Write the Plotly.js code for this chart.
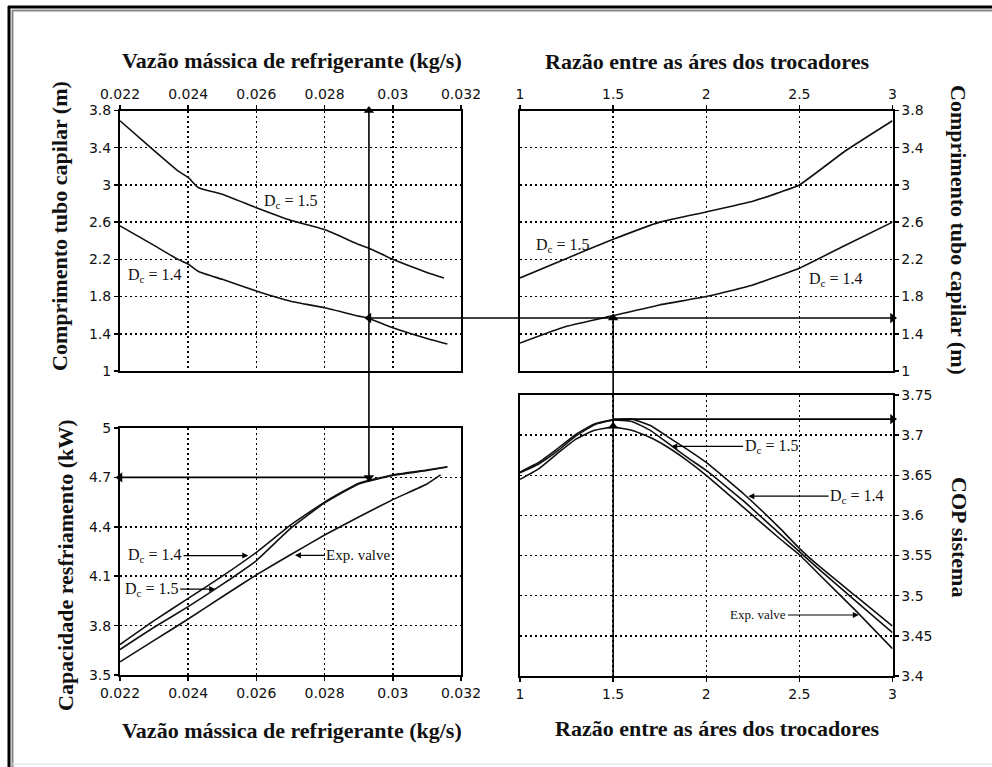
<!DOCTYPE html>
<html><head><meta charset="utf-8">
<script src="https://cdn.plot.ly/plotly-3.0.1.min.js"></script>
<style>html,body{margin:0;padding:0;background:#fff}</style>
</head><body><div id="chart" style="width:992px;height:767px"></div>
<script>
// ---------- DATA ----------
// Top-left: capillary tube length vs refrigerant mass flow
const flowTopDc15 = [0.022, 0.0229, 0.0237, 0.024, 0.0243, 0.025, 0.026, 0.027, 0.028, 0.029, 0.0293, 0.030, 0.031, 0.0315];
const lengthFlowDc15 = [3.69, 3.40, 3.15, 3.08, 2.97, 2.90, 2.755, 2.62, 2.52, 2.36, 2.32, 2.20, 2.06, 2.00];
const flowTopDc14 = [0.022, 0.023, 0.0237, 0.024, 0.0243, 0.025, 0.026, 0.027, 0.028, 0.029, 0.0293, 0.030, 0.031, 0.0316];
const lengthFlowDc14 = [2.56, 2.35, 2.20, 2.15, 2.07, 1.985, 1.86, 1.75, 1.68, 1.59, 1.565, 1.465, 1.35, 1.29];

// Top-right: capillary tube length vs heat-exchanger area ratio
const ratioTopDc15 = [1, 1.25, 1.5, 1.75, 2, 2.25, 2.4, 2.5, 2.75, 3];
const lengthRatioDc15 = [2.0, 2.21, 2.415, 2.6, 2.71, 2.825, 2.925, 3.0, 3.37, 3.69];
const ratioTopDc14 = [1, 1.25, 1.5, 1.75, 2, 2.25, 2.5, 2.75, 3];
const lengthRatioDc14 = [1.30, 1.48, 1.595, 1.71, 1.80, 1.925, 2.105, 2.355, 2.60];

// Bottom-left: cooling capacity vs mass flow
const flowBottom = [0.022, 0.023, 0.024, 0.025, 0.026, 0.027, 0.028, 0.029, 0.030, 0.031, 0.0316];
const capacityDc14 = [3.685, 3.83, 3.965, 4.10, 4.245, 4.41, 4.55, 4.665, 4.715, 4.745, 4.765];
const capacityDc15 = [3.655, 3.79, 3.915, 4.05, 4.195, 4.39, 4.545, 4.66, 4.712, 4.742, 4.763];
const flowExpValve = [0.022, 0.023, 0.024, 0.025, 0.026, 0.027, 0.028, 0.029, 0.030, 0.031, 0.0314];
const capacityExpValve = [3.58, 3.71, 3.84, 3.975, 4.108, 4.23, 4.35, 4.46, 4.565, 4.66, 4.715];

// Bottom-right: system COP vs area ratio
const ratioBottom = [1, 1.1, 1.2, 1.3, 1.4, 1.5, 1.6, 1.7, 1.8, 1.9, 2.0, 2.2, 2.4, 2.5, 2.6, 2.8, 3.0];
const copDc14 = [3.653, 3.664, 3.680, 3.699, 3.713, 3.719, 3.720, 3.712, 3.697, 3.682, 3.666, 3.627, 3.583, 3.559, 3.538, 3.500, 3.462];
const copDc15 = [3.654, 3.666, 3.683, 3.701, 3.714, 3.719, 3.717, 3.706, 3.689, 3.672, 3.656, 3.618, 3.576, 3.555, 3.534, 3.494, 3.454];
const copExpValve = [3.645, 3.658, 3.677, 3.695, 3.706, 3.710, 3.706, 3.697, 3.684, 3.668, 3.650, 3.610, 3.570, 3.551, 3.528, 3.482, 3.434];

// Operating point read through the four charts
const opFlow = 0.0293, opRatio = 1.5, opLength = 1.57, opCapacity = 4.7, opCOP = 3.72, opCOPExp = 3.711;

// Text
const flowTitle = 'Vazão mássica de refrigerante (kg/s)';
const ratioTitle = 'Razão entre as áres dos trocadores';
const lengthTitle = 'Comprimento tubo capilar (m)';
const capacityTitle = 'Capacidade resfriamento (kW)';
const copTitle = 'COP sistema';
const subC = '<span style="font-size:70%;baseline-shift:-30%">c</span>';
const lblDc14 = 'D' + subC + ' = 1.4', lblDc15 = 'D' + subC + ' = 1.5', lblExp = 'Exp. valve';

// ---------- LAYOUT GEOMETRY ----------
const W = 992, H = 767;
const colL = [120/W, 461/W], colR = [520/W, 892.5/W];
const rowTop = [1-371/H, 1-110.5/H];
const rowBL = [1-675/H, 1-428/H];
const rowBR = [1-676/H, 1-395/H];

const AX = {
  x:  {range:[0.022, 0.032], domain: colL},
  y:  {range:[1, 3.8], domain: rowTop},
  x2: {range:[1, 3], domain: colR},
  y2: {range:[1, 3.8], domain: rowTop},
  x3: {range:[0.022, 0.032], domain: colL},
  y3: {range:[3.5, 5], domain: rowBL},
  x4: {range:[1, 3], domain: colR},
  y4: {range:[3.4, 3.75], domain: rowBR}
};
function toPaper(a, v){ return a.domain[0] + (v-a.range[0])/(a.range[1]-a.range[0])*(a.domain[1]-a.domain[0]); }

const common = {
  showline:true, linewidth:2, linecolor:'#000', mirror:true,
  ticks:'outside', ticklen:4, tickwidth:1.5, tickcolor:'#000',
  showgrid:true, gridcolor:'#000', gridwidth:1.5, griddash:'2px,3px',
  zeroline:false, fixedrange:true,
  tickfont:{family:'DejaVu Sans', size:14, color:'#111'}
};
function axis(id, extra){ return Object.assign({}, common, {range:AX[id].range, domain:AX[id].domain}, extra); }

const lineStyle = {color:'#111', width:1.6, shape:'spline', smoothing:0.4};
function tr(x, y, xa, ya, name){ return {x, y, xaxis:xa, yaxis:ya, mode:'lines', line:lineStyle, name, hoverinfo:'skip'}; }
function heads(x, y, sym, xa, ya){
  return {x, y, xaxis:xa, yaxis:ya, mode:'markers', cliponaxis:false, hoverinfo:'skip',
    marker:{symbol:sym, size:9, color:'#000', line:{width:0}}};
}

const data = [
  tr(flowTopDc15, lengthFlowDc15, 'x', 'y', 'Dc = 1.5'),
  tr(flowTopDc14, lengthFlowDc14, 'x', 'y', 'Dc = 1.4'),
  tr(ratioTopDc15, lengthRatioDc15, 'x2', 'y2', 'Dc = 1.5'),
  tr(ratioTopDc14, lengthRatioDc14, 'x2', 'y2', 'Dc = 1.4'),
  tr(flowBottom, capacityDc14, 'x3', 'y3', 'Dc = 1.4'),
  tr(flowBottom, capacityDc15, 'x3', 'y3', 'Dc = 1.5'),
  tr(flowExpValve, capacityExpValve, 'x3', 'y3', 'Exp. valve'),
  tr(ratioBottom, copDc14, 'x4', 'y4', 'Dc = 1.4'),
  tr(ratioBottom, copDc15, 'x4', 'y4', 'Dc = 1.5'),
  tr(ratioBottom, copExpValve, 'x4', 'y4', 'Exp. valve'),
  // arrowheads of the operating-point construction
  heads([opFlow, AX.x.range[0]], [opCapacity, opCapacity], ['triangle-down', 'triangle-left'], 'x3', 'y3'),
  heads([opFlow, opFlow], [AX.y.range[1], opLength], ['triangle-up', 'triangle-left'], 'x', 'y'),
  heads([opRatio, AX.x2.range[1]], [opLength, opLength], ['triangle-up', 'triangle-right'], 'x2', 'y2'),
  heads([opRatio, AX.x4.range[1]], [opCOPExp, opCOP], ['triangle-up', 'triangle-right'], 'x4', 'y4')
];

function label(xref, yref, x, y, text, size, head){
  const a = {xref, yref, text, showarrow:false, x, y,
    font:{family:'Liberation Serif', size:size, color:'#111'}};
  if(head){
    Object.assign(a, {showarrow:true, axref:xref, ayref:yref, ax:x, ay:y, x:head[0], y:head[1],
      arrowhead:2, arrowsize:1, arrowwidth:1.2, arrowcolor:'#000'});
  }
  return a;
}
const titleFont = {family:'Liberation Serif', size:22, color:'#111', weight:'bold'};
function ttl(x, y, text, angle){
  return {xref:'paper', yref:'paper', x:x/W, y:1-y/H, text, showarrow:false, textangle:angle||0,
    xanchor:'center', yanchor:'middle', font:titleFont};
}

const annotations = [
  ttl(292, 60, flowTitle), ttl(707, 61, ratioTitle),
  ttl(60, 226, lengthTitle, -90), ttl(958, 230, lengthTitle, 90),
  ttl(65, 565, capacityTitle, -90), ttl(960, 537, copTitle, 90),
  ttl(292, 730, flowTitle), ttl(717, 728, ratioTitle),
  label('x', 'y', 0.0270, 2.826, lblDc15, 16),
  label('x', 'y', 0.02303, 2.03, lblDc14, 16),
  label('x2', 'y2', 1.233, 2.352, lblDc15, 16),
  label('x2', 'y2', 2.695, 1.983, lblDc14, 16),
  label('x3', 'y3', 0.02303, 4.225, lblDc14, 16, [0.02576, 4.225]),
  label('x3', 'y3', 0.02293, 4.022, lblDc15, 16, [0.02479, 4.022]),
  label('x3', 'y3', 0.02899, 4.227, lblExp, 15, [0.02713, 4.227]),
  label('x4', 'y4', 2.351, 3.686, lblDc15, 16, [1.812, 3.686]),
  label('x4', 'y4', 2.81, 3.624, lblDc14, 16, [2.226, 3.624]),
  label('x4', 'y4', 2.28, 3.476, lblExp, 13, [2.819, 3.476])
];

const conn = {color:'#000', width:1.6};
const frame = (x0, x1, y0, y1, color, width) => ({type:'line', xref:'paper', yref:'paper', x0, x1, y0, y1, line:{color, width}});
const shapes = [
  frame(8/W, 1, 1-7/H, 1-7/H, '#000', 3),
  frame(9/W, 9/W, 0, 1-6/H, '#000', 3),
  frame(12/W, 1, 1-10.5/H, 1-10.5/H, '#888', 2),
  frame(12.5/W, 12.5/W, 0, 1-10/H, '#888', 2),
  frame(12/W, 1, 1-764/H, 1-764/H, '#ddd', 1),
  // operating-point construction lines
  {type:'line', xref:'x3', yref:'paper', x0:opFlow, x1:opFlow, y0:toPaper(AX.y3, opCapacity), y1:AX.y.domain[1], line:conn},
  {type:'line', xref:'x3', yref:'y3', x0:AX.x3.range[0], x1:opFlow, y0:opCapacity, y1:opCapacity, line:conn},
  {type:'line', xref:'paper', yref:'y', x0:toPaper(AX.x, opFlow), x1:AX.x2.domain[1], y0:opLength, y1:opLength, line:conn},
  {type:'line', xref:'x2', yref:'paper', x0:opRatio, x1:opRatio, y0:AX.y4.domain[0], y1:toPaper(AX.y2, opLength), line:conn},
  {type:'line', xref:'x4', yref:'y4', x0:opRatio, x1:AX.x4.range[1], y0:opCOP, y1:opCOP, line:conn}
];

const layout = {
  width:W, height:H, autosize:false, showlegend:false,
  margin:{l:0, r:0, t:0, b:0}, paper_bgcolor:'#fff', plot_bgcolor:'#fff',
  xaxis: axis('x', {side:'top', anchor:'y', tick0:0.022, dtick:0.002}),
  yaxis: axis('y', {anchor:'x', tick0:1, dtick:0.4}),
  xaxis2: axis('x2', {side:'top', anchor:'y2', tick0:1, dtick:0.5}),
  yaxis2: axis('y2', {side:'right', anchor:'x2', tick0:1, dtick:0.4}),
  xaxis3: axis('x3', {anchor:'y3', tick0:0.022, dtick:0.002}),
  yaxis3: axis('y3', {anchor:'x3', tick0:3.5, dtick:0.3}),
  xaxis4: axis('x4', {anchor:'y4', tick0:1, dtick:0.5}),
  yaxis4: axis('y4', {side:'right', anchor:'x4', tick0:3.4, dtick:0.05}),
  annotations, shapes
};
Plotly.newPlot('chart', data, layout, {displayModeBar:false, staticPlot:true});
</script></body></html>
